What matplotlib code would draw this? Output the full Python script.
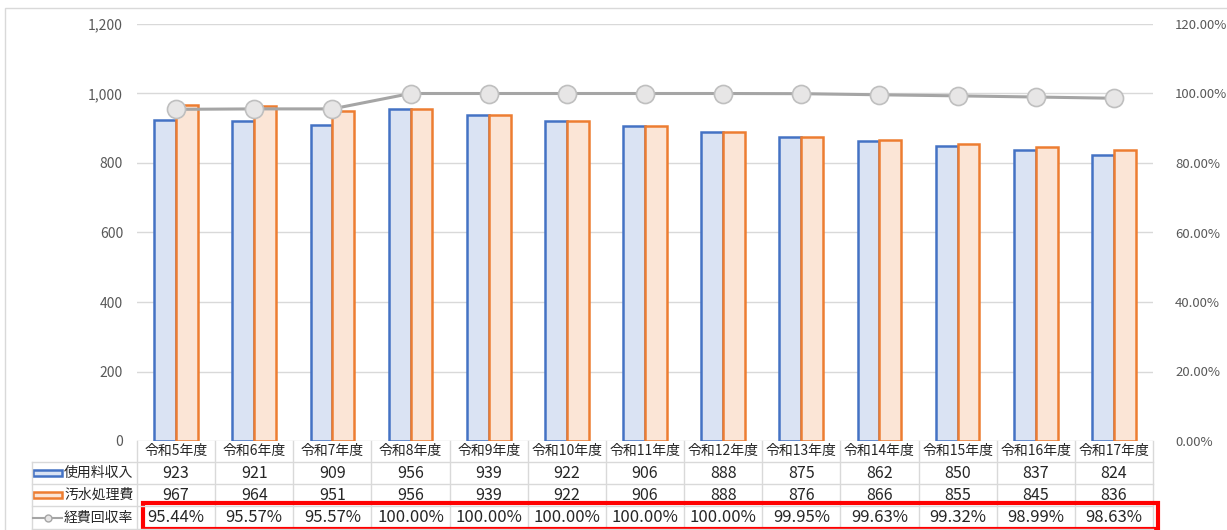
import matplotlib.pyplot as plt
from matplotlib.patches import Rectangle
from matplotlib.lines import Line2D
from matplotlib.transforms import blended_transform_factory
import numpy as np

plt.rcParams['font.family'] = ['Noto Sans CJK JP', 'DejaVu Sans']

# data
categories = ['令和5年度', '令和6年度', '令和7年度', '令和8年度', '令和9年度', '令和10年度',
              '令和11年度', '令和12年度', '令和13年度', '令和14年度', '令和15年度',
              '令和16年度', '令和17年度']
revenue = [923, 921, 909, 956, 939, 922, 906, 888, 875, 862, 850, 837, 824]
cost = [967, 964, 951, 956, 939, 922, 906, 888, 876, 866, 855, 845, 836]
recovery = [95.44, 95.57, 95.57, 100.00, 100.00, 100.00, 100.00, 100.00,
            99.95, 99.63, 99.32, 98.99, 98.63]
series_names = ['使用料収入', '汚水処理費', '経費回収率']

W, H = 1227, 530
def px(x):
    return x / W
def py(y):
    return 1 - y / H

BLUE, BLUE_FILL = '#4472C4', '#DAE3F3'
ORANGE, ORANGE_FILL = '#ED7D31', '#FBE5D6'
GRAY, MK_FILL, MK_EDGE = '#A5A5A5', '#E7E6E6', '#BFBFBF'
GRID = '#D9D9D9'
TXT = '#262626'

fig = plt.figure(figsize=(W / 100, H / 100), dpi=100)
ax = fig.add_axes([px(137), py(441), px(1153) - px(137), py(24) - py(441)])
ax2 = ax.twinx()

x = np.arange(len(categories))
w = 0.28
ax.bar(x - w / 2, revenue, w, color=BLUE_FILL, edgecolor=BLUE, linewidth=1.8, zorder=2)
ax.bar(x + w / 2, cost, w, color=ORANGE_FILL, edgecolor=ORANGE, linewidth=1.8, zorder=2)
ax2.plot(x, recovery, color=GRAY, linewidth=2.2, marker='o', markersize=13,
         markerfacecolor=MK_FILL, markeredgecolor=MK_EDGE, markeredgewidth=1.2)

ax.set_xlim(-0.5, len(categories) - 0.5)
ax.set_ylim(0, 1200)
ax.set_yticks(range(0, 1201, 200))
ax.set_yticklabels([f'{v:,}' for v in range(0, 1201, 200)])
ax2.set_ylim(0, 120)
ax2.set_yticks(range(0, 121, 20))
ax2.set_yticklabels([f'{v:.2f}%' for v in range(0, 121, 20)])
ax.set_xticks([])
ax.grid(axis='y', color=GRID, linewidth=1, zorder=0)
ax.set_axisbelow(True)
for a in (ax, ax2):
    for s in a.spines.values():
        s.set_visible(False)
ax.tick_params(axis='y', length=0, pad=10, labelsize=10, labelcolor='#595959')
ax2.tick_params(axis='y', length=0, pad=16, labelsize=9.5, labelcolor='#595959')

# data table under the chart
tr = blended_transform_factory(ax.transData, fig.transFigure)
row_edges = [441, 462, 484, 506, 529]
row_mid = [(row_edges[i] + row_edges[i + 1]) / 2 for i in range(4)]
for yy in row_edges[1:]:
    fig.add_artist(Line2D([px(32), px(1153)], [py(yy), py(yy)], color=GRID, linewidth=1))
for i in range(len(categories) + 1):
    ax.add_line(Line2D([i - 0.5, i - 0.5], [py(441), py(529)], transform=tr,
                       color=GRID, linewidth=1, clip_on=False))
fig.add_artist(Line2D([px(32), px(32)], [py(462), py(529)], color=GRID, linewidth=1))

for i, c in enumerate(categories):
    ax.text(i, py(row_mid[0]), c, transform=tr, ha='center', va='center',
            fontsize=10, color=TXT)
    ax.text(i, py(row_mid[1]), f'{revenue[i]}', transform=tr, ha='center', va='center',
            fontsize=11.5, color=TXT)
    ax.text(i, py(row_mid[2]), f'{cost[i]}', transform=tr, ha='center', va='center',
            fontsize=11.5, color=TXT)
    ax.text(i, py(row_mid[3]), f'{recovery[i]:.2f}%', transform=tr, ha='center',
            va='center', fontsize=12, color=TXT)

# header column with legend keys
for k, name in enumerate(series_names):
    ym = row_mid[k + 1]
    fig.text(px(64), py(ym), name, ha='left', va='center', fontsize=10, color=TXT)
fig.add_artist(Rectangle((px(33), py(row_mid[1] + 3)), px(29), py(0) - py(6),
                         facecolor=BLUE_FILL, edgecolor=BLUE, linewidth=1.8))
fig.add_artist(Rectangle((px(33), py(row_mid[2] + 3)), px(29), py(0) - py(6),
                         facecolor=ORANGE_FILL, edgecolor=ORANGE, linewidth=1.8))
fig.add_artist(Line2D([px(33), px(62)], [py(row_mid[3]), py(row_mid[3])], color=GRAY,
                      linewidth=1.5))
fig.add_artist(Line2D([px(47.5)], [py(row_mid[3])], color=GRAY, marker='o',
                      markersize=5, markerfacecolor=MK_FILL, markeredgecolor=GRAY,
                      linestyle='none'))

# red highlight box around the recovery-rate row
ax.add_patch(Rectangle((-0.5 + 0.08, py(529)), len(categories) - 0.02, py(503) - py(529),
                       transform=tr, fill=False, edgecolor='#FF0000', linewidth=3,
                       clip_on=False, zorder=5))

# outer chart frame
fig.add_artist(Rectangle((px(5), py(560)), px(1240), py(8) - py(560),
                         fill=False, edgecolor='#D9D9D9', linewidth=1))

fig.savefig('out.png', dpi=100)
